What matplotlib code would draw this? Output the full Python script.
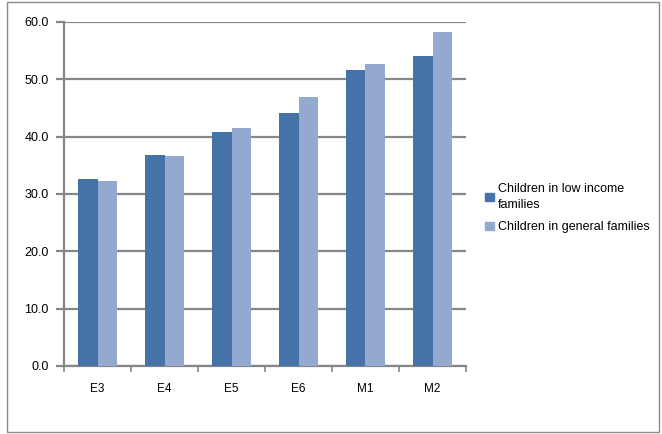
import numpy as np
import matplotlib.pyplot as plt
from matplotlib.patches import Rectangle, Patch

plt.rcParams['font.family'] = ['Liberation Sans', 'DejaVu Sans']

# データ
categories = ['E3', 'E4', 'E5', 'E6', 'M1', 'M2']
low_income = [32.6, 36.8, 40.8, 44.1, 51.6, 54.0]
general = [32.3, 36.6, 41.5, 46.9, 52.7, 58.3]
series_labels = ['Children in low income\nfamilies', 'Children in general families']
yticks = [0, 10, 20, 30, 40, 50, 60]

dark = '#4572A7'
light = '#93A9CF'
grid_c = '#878787'

fig = plt.figure(figsize=(6.62, 4.34), dpi=100)
ax = fig.add_axes([64 / 662, 68 / 434, 402 / 662, 344 / 434])

# 外枠
fig.patches.append(Rectangle((7 / 662, 2 / 434), 652 / 662, 430 / 434,
                             transform=fig.transFigure, fill=False,
                             edgecolor='#8c8c8c', linewidth=1.0))

x = np.arange(len(categories))
w = 0.29
ax.bar(x - w / 2, low_income, w, color=dark, zorder=3)
ax.bar(x + w / 2, general, w, color=light, zorder=3)

ax.set_xlim(-0.5, len(categories) - 0.5)
ax.set_ylim(0, 60)
ax.set_yticks(yticks)
ax.set_yticklabels([f'{v:.1f}' for v in yticks], fontsize=9)
ax.yaxis.grid(True, color=grid_c, linewidth=1.6, zorder=0)
ax.set_axisbelow(True)

ax.set_xticks(x)
ax.set_xticklabels(categories, fontsize=8.5)
ax.set_xticks(np.arange(-0.5, len(categories)), minor=True)
ax.tick_params(axis='x', which='major', length=0, pad=12)
ax.tick_params(axis='x', which='minor', length=4, width=1.2, color=grid_c)
ax.tick_params(axis='y', length=6, width=1.6, color=grid_c, pad=5)

for s in ['top', 'right']:
    ax.spines[s].set_visible(False)
for s in ['left', 'bottom']:
    ax.spines[s].set_color(grid_c)
    ax.spines[s].set_linewidth(1.6)

handles = [Patch(color=dark), Patch(color=light)]
leg = fig.legend(handles, series_labels, loc='center left',
                 bbox_to_anchor=(474 / 662, 1 - 208 / 434), frameon=False,
                 fontsize=9, handlelength=0.7, handleheight=0.7,
                 handletextpad=0.3, labelspacing=0.8)
for t in leg.get_texts():
    t.set_linespacing(1.55)

plt.savefig('out.png', dpi=100)
plt.close()
